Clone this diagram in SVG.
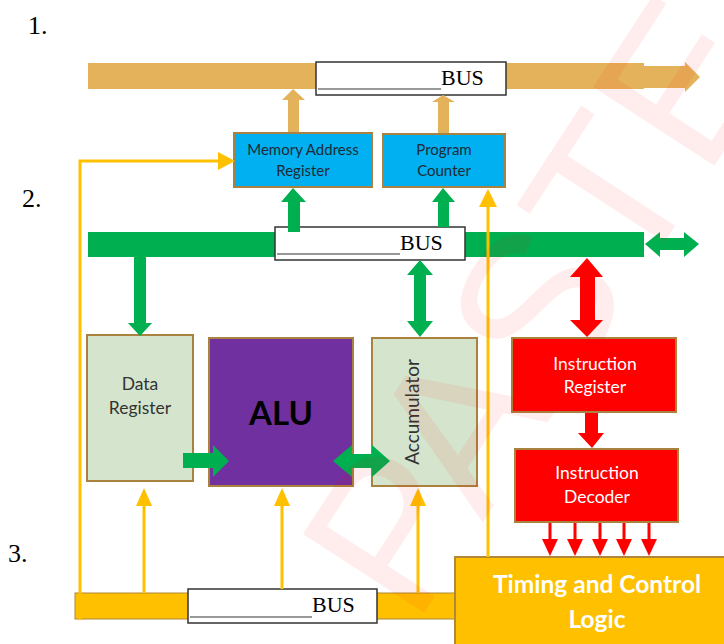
<svg xmlns="http://www.w3.org/2000/svg" width="724" height="644" viewBox="0 0 724 644">
  <style>
    .num { font-family: "Liberation Serif", serif; font-size: 26px; fill: #000; }
    .bus-label { font-family: "Liberation Serif", serif; font-size: 22px; fill: #000; }
    .bus-box { fill: #fff; stroke: #333; stroke-width: 1.5; }
    .bus-rule { stroke: #333; stroke-width: 1.2; }
    .blue { fill: #00B0F0; stroke: #A8823E; stroke-width: 2; }
    .pale { fill: #D5E5CD; stroke: #A8823E; stroke-width: 2; }
    .purple { fill: #7030A0; stroke: #A8823E; stroke-width: 2; }
    .red { fill: #FF0000; stroke: #A8823E; stroke-width: 2; }
    .gold { fill: #FFC000; stroke: #B08838; stroke-width: 2; }
    .lbl { font-family: Lato, "Open Sans", sans-serif; font-size: 15px; text-anchor: middle; }
    .big { font-size: 17.5px; }
    .vert { font-size: 19px; }
    .dark { fill: #1F2A36; }
    .grey { fill: #333; }
    .white { fill: #fff; }
    .ctl { stroke: #FFC000; stroke-width: 3; fill: none; }
    .head-y { fill: #FFC000; }
    .g { fill: #00B050; }
    .t { fill: #E3B25A; }
    .r { fill: #FF0000; }
    .mark { font-family: "Liberation Sans", sans-serif; font-size: 210px; fill: #FF0000; fill-opacity: 0.07; text-anchor: middle; }
  </style>

  <rect width="724" height="644" fill="#fff"/>

  <!-- section numbers -->
  <text class="num" x="28" y="34">1.</text>
  <text class="num" x="22" y="207">2.</text>
  <text class="num" x="8" y="562">3.</text>

  <!-- upper bus -->
  <g id="bus-upper">
    <rect class="t" x="88" y="63" width="556" height="26"/>
    <polygon class="t" points="643,66 685,66 685,62 700,77 685,92 685,88 643,88"/>
    <rect class="bus-box" x="316" y="62" width="190" height="33"/>
    <line class="bus-rule" x1="318" y1="89" x2="441" y2="89"/>
    <text class="bus-label" x="441" y="85">BUS</text>
  </g>

  <!-- middle bus -->
  <g id="bus-middle">
    <rect class="g" x="88" y="232" width="556" height="25"/>
    <rect class="bus-box" x="275" y="227" width="190" height="33"/>
    <line class="bus-rule" x1="277" y1="254" x2="400" y2="254"/>
    <text class="bus-label" x="400" y="250">BUS</text>
  </g>

  <!-- lower bus -->
  <g id="bus-lower">
    <rect x="75" y="593" width="382" height="26" fill="#FFC000" stroke="#B08838" stroke-width="1"/>
    <rect class="bus-box" x="188" y="589" width="189" height="34"/>
    <line class="bus-rule" x1="190" y1="617" x2="312" y2="617"/>
    <text class="bus-label" x="312" y="612">BUS</text>
  </g>

  <g id="mar">
    <rect class="blue" x="234" y="133" width="138" height="54"/>
    <text class="lbl dark" x="303" y="155">Memory Address</text>
    <text class="lbl dark" x="303" y="176">Register</text>
  </g>

  <g id="pc">
    <rect class="blue" x="383" y="134" width="122" height="53"/>
    <text class="lbl dark" x="444" y="155">Program</text>
    <text class="lbl dark" x="444" y="176">Counter</text>
  </g>

  <g id="data-register">
    <rect class="pale" x="87" y="335" width="106" height="146"/>
    <text class="lbl big grey" x="140" y="390">Data</text>
    <text class="lbl big grey" x="140" y="414">Register</text>
  </g>

  <g id="alu">
    <rect class="purple" x="209" y="338" width="144" height="148"/>
    <text x="281" y="425" font-family="Lato, 'Open Sans', sans-serif" font-size="33" font-weight="bold" fill="#000" text-anchor="middle">ALU</text>
  </g>

  <g id="accumulator">
    <rect class="pale" x="372" y="338" width="105" height="148"/>
    <text class="lbl vert grey" transform="translate(419 412) rotate(-90)" x="0" y="0">Accumulator</text>
  </g>

  <g id="instruction-register">
    <rect class="red" x="512" y="338" width="164" height="74"/>
    <text class="lbl big white" x="595" y="370">Instruction</text>
    <text class="lbl big white" x="595" y="393">Register</text>
  </g>

  <g id="instruction-decoder">
    <rect class="red" x="515" y="449" width="163" height="73"/>
    <text class="lbl big white" x="597" y="479">Instruction</text>
    <text class="lbl big white" x="597" y="503">Decoder</text>
  </g>

  <g id="timing-control">
    <rect class="gold" x="455" y="557" width="280" height="100"/>
    <text x="597" y="593" font-family="Lato, 'Open Sans', sans-serif" font-size="24.5" font-weight="bold" fill="#fff" text-anchor="middle">Timing and Control</text>
    <text x="597" y="628" font-family="Lato, 'Open Sans', sans-serif" font-size="24.5" font-weight="bold" fill="#fff" text-anchor="middle">Logic</text>
  </g>

  <!-- connectors, drawn over the buses and blocks -->
  <g id="connectors">
    <!-- control line up to the memory address register -->
    <polyline class="ctl" points="80,620 80,161 220,161"/>
    <polygon class="head-y" points="235,161 218,152 218,170"/>
    <!-- control line from timing logic up to the program counter -->
    <line class="ctl" x1="488" y1="557" x2="488" y2="205"/>
    <polygon class="head-y" points="488,189 479,207 497,207"/>
    <!-- control lines from the lower bus up to the registers and ALU -->
    <line class="ctl" x1="144" y1="593" x2="144" y2="503"/>
    <polygon class="head-y" points="144,488 136,506 152,506"/>
    <line class="ctl" x1="282" y1="589" x2="282" y2="503"/>
    <polygon class="head-y" points="282,488 274,506 290,506"/>
    <line class="ctl" x1="418" y1="593" x2="418" y2="503"/>
    <polygon class="head-y" points="418,488 410,506 426,506"/>

    <!-- address / counter outputs to the upper bus -->
    <polygon class="t" points="288,132 288,100 282,100 293,89 305,100 299,100 299,132"/>
    <polygon class="t" points="438,133 438,102 432,102 443,95 455,102 449,102 449,133"/>

    <!-- green bus to MAR and PC -->
    <polygon class="g" points="288,232 288,202 281,202 293,188 306,202 300,202 300,232"/>
    <polygon class="g" points="438,227 438,202 432,202 443,188 455,202 449,202 449,227"/>

    <!-- green bus to data register -->
    <polygon class="g" points="134,257 146,257 146,323 152,323 140,336 128,323 134,323"/>
    <!-- green bus to and from accumulator -->
    <polygon class="g" points="420,260 433,275 426,275 426,321 433,321 420,337 407,321 414,321 414,275 407,275"/>
    <!-- data register into ALU -->
    <polygon class="g" points="183,453 213,453 213,445 229,461 213,477 213,468 183,468"/>
    <!-- ALU to and from accumulator -->
    <polygon class="g" points="333,461 352,445 352,454 372,454 372,445 390,461 372,477 372,468 352,468 352,477"/>
    <!-- green bus external link -->
    <polygon class="g" points="645,244 660,232 660,238 684,238 684,232 699,244 684,257 684,250 660,250 660,257"/>

    <!-- green bus to and from instruction register -->
    <polygon class="r" points="587,258 603,277 595,277 595,320 603,320 587,337 570,320 580,320 580,277 570,277"/>
    <!-- instruction register to decoder -->
    <polygon class="r" points="585,413 598,413 598,433 604,433 592,448 578,433 585,433"/>
    <!-- decoder outputs into timing logic -->
    <g class="r">
      <rect x="548.5" y="523" width="3" height="17"/>
      <polygon points="542,539 558,539 550,556"/>
      <rect x="573.5" y="523" width="3" height="17"/>
      <polygon points="567,539 583,539 575,556"/>
      <rect x="598.5" y="523" width="3" height="17"/>
      <polygon points="592,539 608,539 600,556"/>
      <rect x="622.5" y="523" width="3" height="17"/>
      <polygon points="616,539 632,539 624,556"/>
      <rect x="647.5" y="523" width="3" height="17"/>
      <polygon points="641,539 657,539 649,556"/>
    </g>
  </g>

  <!-- faint diagonal watermark -->
  <text class="mark" transform="translate(598 345) rotate(-57)" x="0" y="0">PASTE</text>
</svg>
